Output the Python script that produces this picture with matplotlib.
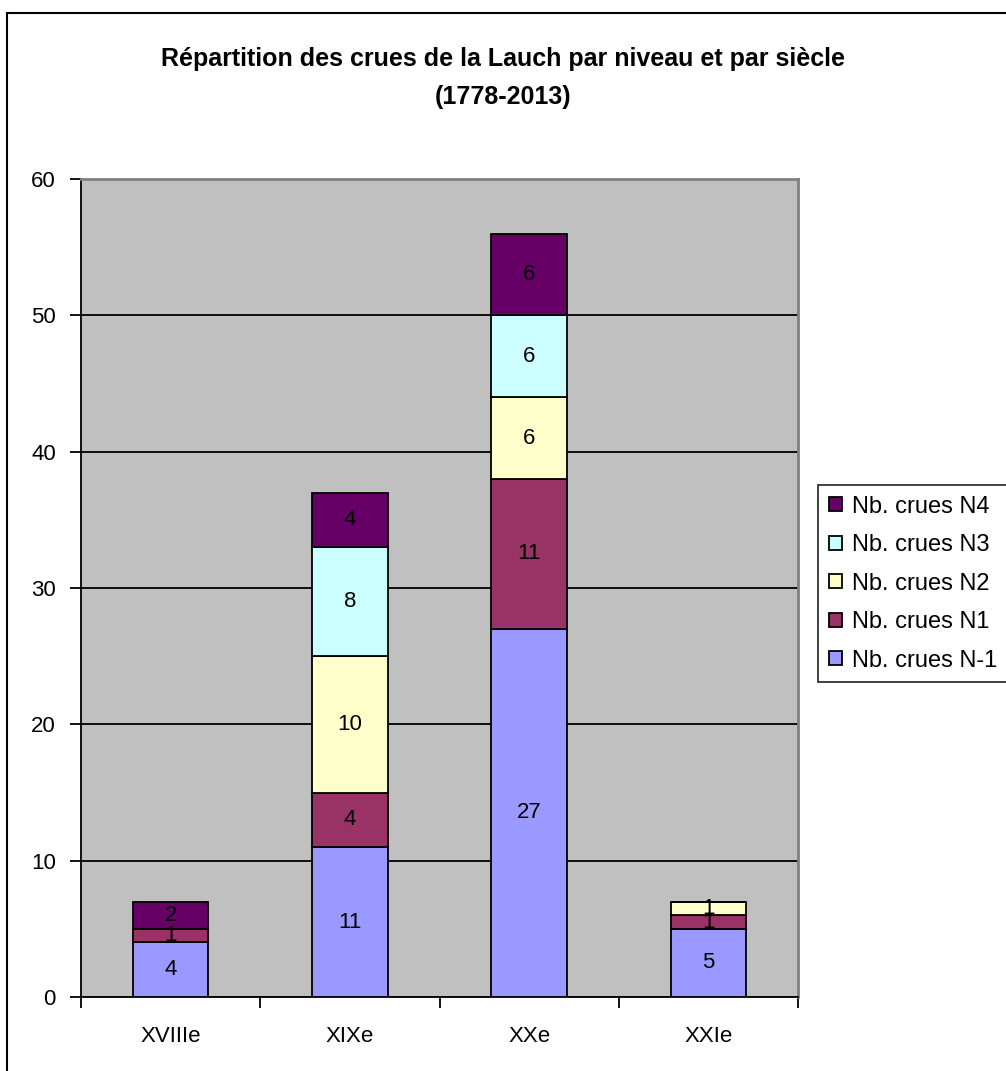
import numpy as np
import matplotlib.pyplot as plt
from matplotlib.patches import Rectangle, Patch

plt.rcParams['font.family'] = ['Liberation Sans', 'DejaVu Sans']

centuries = ["XVIIIe", "XIXe", "XXe", "XXIe"]
series_names = ["Nb. crues N-1", "Nb. crues N1", "Nb. crues N2", "Nb. crues N3", "Nb. crues N4"]
n_m1 = [4, 11, 27, 5]
n1 = [1, 4, 11, 1]
n2 = [0, 10, 6, 1]
n3 = [0, 8, 6, 0]
n4 = [2, 4, 6, 0]
colors = ["#9999FF", "#993366", "#FFFFCC", "#CCFFFF", "#660066"]
yticks = [0, 10, 20, 30, 40, 50, 60]


def main():
    W, H = 1006, 1071
    fig = plt.figure(figsize=(W / 100, H / 100), dpi=100)
    # outer chart border (cut at right/bottom like the original)
    fig.patches.append(Rectangle((7 / W, -0.05), 1.1, (H - 13) / H + 0.05,
                                 transform=fig.transFigure, fill=False,
                                 edgecolor="black", linewidth=1.5))

    ax = fig.add_axes([81 / W, (H - 997) / H, 717 / W, 818 / H])
    ax.set_facecolor("#C0C0C0")

    x = np.arange(len(centuries))
    data = [n_m1, n1, n2, n3, n4]
    bottom = np.zeros(len(centuries))
    for vals, col, name in zip(data, colors, series_names):
        vals = np.array(vals, dtype=float)
        ax.bar(x, vals, width=0.42, bottom=bottom, color=col,
               edgecolor="black", linewidth=1.3, label=name, zorder=3)
        for xi, b, v in zip(x, bottom, vals):
            if v > 0:
                ax.text(xi, b + v / 2, "%d" % v, ha="center", va="center",
                        fontsize=16, zorder=4)
        bottom = bottom + vals

    ax.set_xlim(-0.5, len(centuries) - 0.5)
    ax.set_ylim(0, 60)
    ax.set_yticks(yticks)
    ax.yaxis.grid(True, color="black", linewidth=1.3, zorder=1)
    ax.set_axisbelow(True)
    ax.tick_params(axis="y", direction="out", length=8, width=1.3,
                   labelsize=16, pad=10)
    # x ticks at category boundaries, labels at centres
    ax.set_xticks(np.arange(-0.5, len(centuries)), minor=False)
    ax.set_xticklabels([])
    ax.set_xticks(x, minor=True)
    ax.set_xticklabels(centuries, minor=True, fontsize=16)
    ax.tick_params(axis="x", which="major", direction="out", length=8, width=1.3)
    ax.tick_params(axis="x", which="minor", length=0, pad=21)

    for s in ["top", "right"]:
        ax.spines[s].set_color("#808080")
        ax.spines[s].set_linewidth(2)
    for s in ["left", "bottom"]:
        ax.spines[s].set_color("black")
        ax.spines[s].set_linewidth(1.3)

    fig.text(0.5, 1 - 59 / H, "Répartition des crues de la Lauch par niveau et par siècle",
             ha="center", va="center", fontsize=18, fontweight="bold")
    fig.text(0.5, 1 - 97 / H, "(1778-2013)",
             ha="center", va="center", fontsize=18, fontweight="bold")

    handles = [Patch(facecolor=c, edgecolor="black", linewidth=1.3, label=n)
               for c, n in zip(colors, series_names)][::-1]
    leg = fig.legend(handles=handles, loc="upper left",
                     bbox_to_anchor=(818 / W, 1 - 485 / H), frameon=True,
                     fontsize=17, handlelength=0.55, handleheight=0.55,
                     handletextpad=0.42, labelspacing=0.7, borderpad=0.45,
                     fancybox=False, borderaxespad=0)
    leg.get_frame().set_edgecolor("black")
    leg.get_frame().set_linewidth(1.3)

    fig.savefig("out.png", dpi=100)


if __name__ == "__main__":
    main()
